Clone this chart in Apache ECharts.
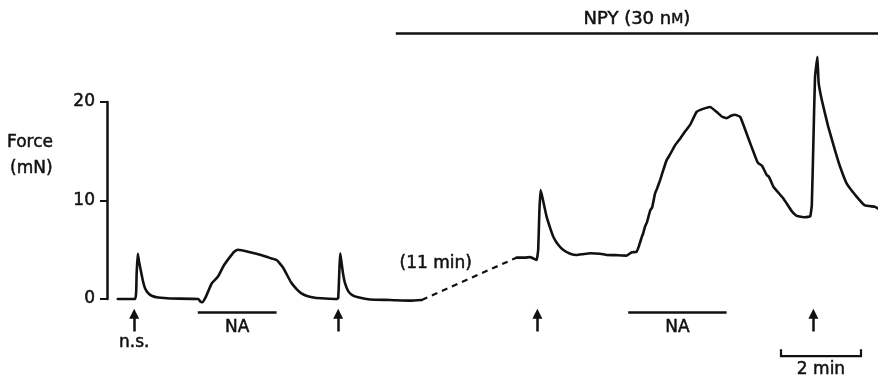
<!DOCTYPE html>
<html>
<head>
<meta charset="utf-8">
<script src="https://cdn.jsdelivr.net/npm/echarts@6/dist/echarts.min.js"></script>
<style>
  html, body { margin: 0; padding: 0; background: #fff; }
  #chart { width: 878px; height: 381px; }
</style>
</head>
<body>
<div id="chart"></div>
<script>
// Isometric force trace (mN) against recording time (min).
// Control period, before neuropeptide Y
const preTime  = [0.27, 0.70, 0.74, 0.77, 0.80, 0.85, 0.90, 0.95, 1.03, 1.13, 1.28, 1.58, 2.28, 2.33, 2.38, 2.48, 2.62, 2.78, 2.92, 3.08, 3.18, 3.28, 3.58, 3.87, 4.05, 4.24, 4.40, 4.60, 4.74, 4.85, 5.00, 5.20, 5.45, 5.74, 5.78, 5.81, 5.83, 5.86, 5.90, 5.95, 6.03, 6.13, 6.28, 6.58, 7.08, 7.58, 7.87];
const preForce = [0.00, 0.00, 2.50, 4.60, 3.80, 2.80, 1.80, 1.10, 0.60, 0.30, 0.15, 0.05, 0.00, -0.25, -0.33, 0.30, 1.60, 2.30, 3.40, 4.30, 4.80, 5.00, 4.75, 4.45, 4.20, 3.96, 3.20, 1.70, 1.00, 0.60, 0.30, 0.12, 0.05, 0.00, 0.10, 3.00, 4.64, 3.80, 2.60, 1.60, 0.80, 0.40, 0.17, -0.05, -0.10, -0.17, -0.10];

// Recording in the presence of NPY (30 nM), after an 11 min gap
const postTime  = [10.24, 10.45, 10.58, 10.74, 10.78, 10.81, 10.84, 10.88, 10.99, 11.08, 11.16, 11.28, 11.41, 11.58, 11.74, 11.90, 12.08, 12.33, 12.49, 12.70, 12.99, 13.12, 13.24, 13.30, 13.37, 13.40, 13.45, 13.50, 13.58, 13.63, 13.70, 13.75, 13.83, 13.90, 13.99, 14.08, 14.20, 14.33, 14.45, 14.58, 14.74, 14.90, 15.08, 15.24, 15.38, 15.49, 15.60, 15.70, 15.83, 15.99, 16.10, 16.24, 16.28, 16.38, 16.49, 16.55, 16.66, 16.91, 17.12, 17.22, 17.28, 17.45, 17.58, 17.62, 17.66, 17.70, 17.76, 17.79, 17.87, 18.03, 18.20, 18.33, 18.49, 18.74, 18.95, 19.20, 19.27];
const postForce = [4.20, 4.20, 4.25, 3.96, 5.00, 9.00, 11.07, 10.40, 8.36, 7.20, 6.30, 5.50, 4.97, 4.60, 4.47, 4.55, 4.64, 4.60, 4.47, 4.45, 4.40, 4.74, 4.80, 5.40, 6.30, 6.60, 7.34, 7.80, 9.00, 9.30, 10.70, 11.20, 12.10, 13.00, 14.10, 14.70, 15.60, 16.30, 17.00, 17.70, 19.00, 19.30, 19.50, 19.00, 18.50, 18.35, 18.60, 18.70, 18.50, 16.80, 15.60, 14.10, 13.80, 13.50, 12.60, 12.40, 11.40, 10.20, 8.90, 8.50, 8.40, 8.30, 8.40, 9.50, 16.00, 22.50, 24.60, 22.00, 20.20, 17.50, 15.10, 13.40, 11.75, 10.40, 9.50, 9.37, 9.20];

// Event markers (min)
const stimTimes  = [0.68, 5.78, 10.76, 17.66];   // nerve stimulation
const naStarts   = [2.27, 13.03];                // noradrenaline application
const naEnds     = [4.24, 15.49];
const npyStart   = 7.22;
const npyEnd     = 19.275;
const scaleStart = 16.85;
const scaleLen   = 2;                            // min

const yTicks = [0, 10, 20];

const INK = '#111';
const FONT = 'DejaVu Sans';
const FONT_CSS = '17px "' + FONT + '"';
const textHeavy = { stroke: INK, lineWidth: 0.5 };

const pair = (xs, ys) => xs.map((x, i) => [x, ys[i]]);
const preData = pair(preTime, preForce);
const postData = pair(postTime, postForce);

const traceStyle = { color: INK, width: 2.6, cap: 'round', join: 'round' };

const option = {
  animation: false,
  backgroundColor: '#fff',
  grid: { left: 107, right: 0, top: 102, bottom: 82, containLabel: false },
  xAxis: { type: 'value', min: 0, max: npyEnd, show: false },
  yAxis: {
    type: 'value', min: yTicks[0], max: yTicks[yTicks.length - 1], interval: 10,
    axisLine: { show: true, lineStyle: { color: INK, width: 2.5 } },
    axisTick: { show: true, length: 7, lineStyle: { color: INK, width: 2 } },
    axisLabel: { color: INK, fontSize: 17, fontFamily: FONT, margin: 12,
                 textBorderColor: INK, textBorderWidth: 0.5 },
    splitLine: { show: false }
  },
  series: [
    { type: 'line', data: preData, showSymbol: false, clip: false, smooth: 0.15, lineStyle: traceStyle },
    { type: 'line', data: [preData[preData.length - 1], postData[0]], showSymbol: false, clip: false,
      lineStyle: { color: INK, width: 2.2, type: [6, 5] } },
    { type: 'line', data: postData, showSymbol: false, clip: false, smooth: 0.1, lineStyle: traceStyle },
    // NA application bars
    { type: 'lines', coordinateSystem: 'cartesian2d', clip: false,
      lineStyle: { color: INK, width: 2.5, opacity: 1 },
      data: naStarts.map((s, i) => ({ coords: [[s, -1.37], [naEnds[i], -1.37]] })) },
    // NPY bar
    { type: 'lines', coordinateSystem: 'cartesian2d', clip: false,
      lineStyle: { color: INK, width: 2.5, opacity: 1 },
      data: [{ coords: [[npyStart, 27.0], [npyEnd, 27.0]] }] },
    // stimulation arrows
    { type: 'lines', coordinateSystem: 'cartesian2d', clip: false,
      symbol: ['none', 'triangle'], symbolSize: [9, 10],
      lineStyle: { color: INK, width: 2.5, opacity: 1 },
      data: stimTimes.map(t => ({ coords: [[t, -3.3], [t, -1.5]] })) },
    // time scale bar
    { type: 'lines', coordinateSystem: 'cartesian2d', clip: false, polyline: true,
      lineStyle: { color: INK, width: 2.2, opacity: 1 },
      data: [{ coords: [[scaleStart, -5.1], [scaleStart, -5.79], [scaleStart + scaleLen, -5.79], [scaleStart + scaleLen, -5.1]] }] }
  ]
};

const chart = echarts.init(document.getElementById('chart'));
chart.setOption(option);

const px = (t, v) => chart.convertToPixel({ gridIndex: 0 }, [t, v]);
const txt = (t, v, text) => {
  const p = px(t, v);
  return {
    type: 'text', x: p[0], y: p[1],
    style: Object.assign({ text, fill: INK, font: FONT_CSS, align: 'center', verticalAlign: 'middle' }, textHeavy)
  };
};

chart.setOption({
  graphic: [
    { type: 'text', x: 7, y: 143, style: Object.assign({ text: 'Force', fill: INK, font: FONT_CSS, align: 'left', verticalAlign: 'middle' }, textHeavy) },
    { type: 'text', x: 10, y: 169, style: Object.assign({ text: '(mN)', fill: INK, font: FONT_CSS, align: 'left', verticalAlign: 'middle' }, textHeavy) },
    txt(stimTimes[0], -4.47, 'n.s.'),
    txt((naStarts[0] + naEnds[0]) / 2, -2.94, 'NA'),
    txt((naStarts[1] + naEnds[1]) / 2, -2.94, 'NA'),
    txt(scaleStart + scaleLen / 2, -7.2, scaleLen + ' min'),
    txt(8.22, 3.62, '(11 min)'),
    (function () {
      const p = px((npyStart + npyEnd) / 2, 28.4);
      return {
        type: 'text', x: p[0], y: p[1],
        style: {
          text: '{a|NPY (30 n}{m|M}{a|)}', align: 'center', verticalAlign: 'middle',
          rich: {
            a: { fill: INK, fontSize: 18, fontFamily: FONT, stroke: INK, lineWidth: 0.5 },
            m: { fill: INK, fontSize: 14, fontFamily: FONT, stroke: INK, lineWidth: 0.5 }
          }
        }
      };
    })()
  ]
});
</script>
</body>
</html>
